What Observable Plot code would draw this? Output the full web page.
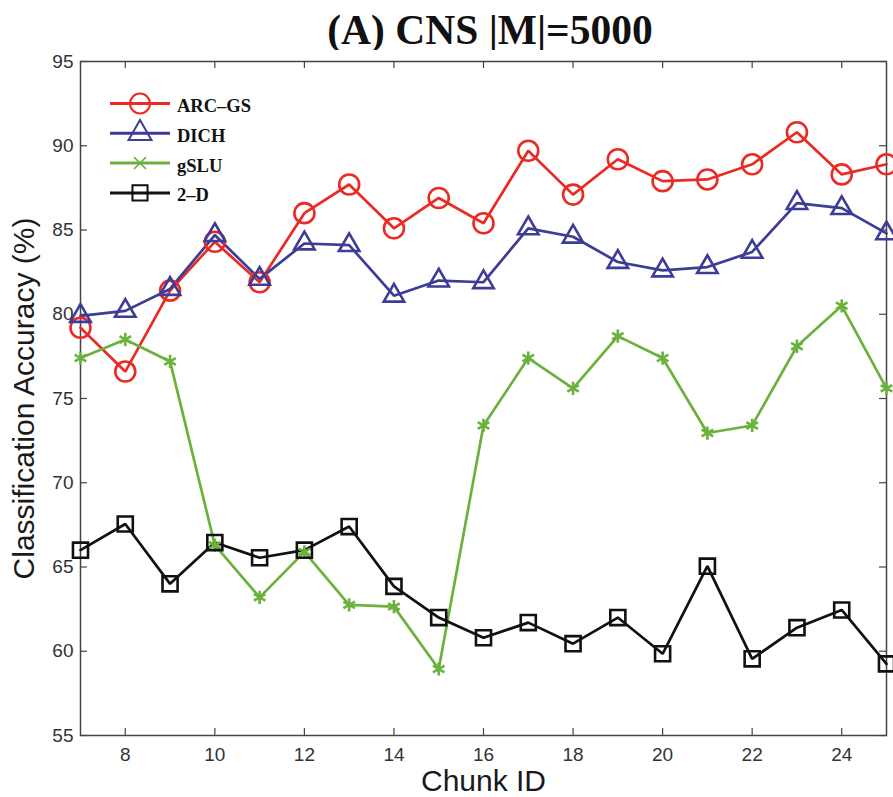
<!DOCTYPE html>
<html>
<head>
<meta charset="utf-8">
<script src="https://cdn.jsdelivr.net/npm/d3@7"></script>
<script src="https://cdn.jsdelivr.net/npm/@observablehq/plot@0.6"></script>
<style>
  body { margin: 0; background: #fff; }
  #wrap { position: relative; width: 893px; height: 797px; overflow: hidden; background: #fff; }
  #title { position: absolute; left: 0px; width: 980px; top: 5px; height: 50px; line-height: 50px;
           text-align: center; font-family: "Liberation Serif", "Times New Roman", serif;
           font-weight: bold; font-size: 41.5px; color: #111; }
  #chart { position: absolute; left: 0; top: 50px; }
</style>
</head>
<body>
<div id="wrap">
  <div id="title">(A) CNS |M|=5000</div>
  <div id="chart"></div>
</div>
<script>
// ---- data ----
const chunks = [7, 8, 9, 10, 11, 12, 13, 14, 15, 16, 17, 18, 19, 20, 21, 22, 23, 24, 25];
const arcgs = [79.2, 76.6, 81.4, 84.3, 81.9, 86.0, 87.7, 85.1, 86.9, 85.4, 89.7, 87.1, 89.2, 87.9, 88.0, 88.9, 90.8, 88.3, 88.9];
const dich  = [79.9, 80.2, 81.5, 84.7, 82.1, 84.2, 84.1, 81.1, 82.0, 81.9, 85.1, 84.6, 83.1, 82.6, 82.8, 83.7, 86.6, 86.3, 84.8];
const gslu  = [77.4, 78.5, 77.2, 66.3, 63.2, 65.9, 62.75, 62.65, 58.95, 73.4, 77.4, 75.6, 78.7, 77.4, 72.95, 73.4, 78.1, 80.5, 75.6];
const twoD  = [66.0, 67.55, 64.0, 66.45, 65.55, 66.0, 67.4, 63.85, 62.0, 60.8, 61.7, 60.45, 62.0, 59.85, 65.05, 59.55, 61.4, 62.45, 59.25];
const seriesNames = ["ARC–GS", "DICH", "gSLU", "2–D"];
const xTicks = [8, 10, 12, 14, 16, 18, 20, 22, 24];
const yTicks = [55, 60, 65, 70, 75, 80, 85, 90, 95];
const xLabel = "Chunk ID";
const yLabel = "Classification Accuracy (%)";

// ---- styles ----
const seriesValues = [arcgs, dich, gslu, twoD];
const colors = ["#ea2a23", "#3d3c96", "#6bb23c", "#111111"];
const dataSymbols = ["circle", "triangle", "asterisk", "square"];
const legendSymbols = [d3.symbolCircle, d3.symbolTriangle, d3.symbolTimes, d3.symbolSquare];
const symR = [10, 7.6, 6.3, 8.5];
const legendR = [10, 8.5, 5.5, 8.5];

const rows = seriesNames.flatMap((s, i) => chunks.map((c, j) => ({series: s, chunk: c, acc: seriesValues[i][j]})));

const W = 893, H = 747;
const mL = 80, mR = 7, mT = 11, mB = 62;
const fw = W - mL - mR, fh = H - mT - mB;
const tl = 7;
const axisColor = "#444";

function legendMark(...args) {
  const dims = args.find(a => a && typeof a === "object" && "marginLeft" in a && "width" in a);
  const x0 = dims.marginLeft, y0 = dims.marginTop;
  const g = d3.create("svg:g");
  seriesNames.forEach((s, i) => {
    const cy = y0 + 42.5 + i * 29.8;
    g.append("line").attr("x1", x0 + 30).attr("x2", x0 + 90).attr("y1", cy).attr("y2", cy)
      .attr("stroke", colors[i]).attr("stroke-width", 3);
    g.append("path").attr("transform", `translate(${x0 + 60},${cy})`)
      .attr("d", d3.symbol(legendSymbols[i], Math.PI * legendR[i] * legendR[i])())
      .attr("fill", "none").attr("stroke", colors[i]).attr("stroke-width", i === 2 ? 1.5 : 2);
    g.append("text").attr("x", x0 + 97).attr("y", cy + 8.5)
      .attr("text-anchor", "start")
      .attr("font-family", "Liberation Serif, Times New Roman, serif").attr("font-weight", "bold")
      .attr("font-size", 18.5).attr("fill", "#111").text(s);
  });
  return g.node();
}

const chart = Plot.plot({
  width: W, height: H,
  marginLeft: mL, marginRight: mR, marginTop: mT, marginBottom: mB,
  style: {fontFamily: "Liberation Sans, Arial, Helvetica, sans-serif", background: "#fff", color: "#222"},
  x: {domain: [7, 25]},
  y: {domain: [55, 95]},
  marks: [
    Plot.frame({stroke: axisColor, strokeWidth: 1.5}),
    // inward ticks on all four sides
    Plot.tickX(xTicks, {x: d => d, insetTop: fh - tl, stroke: axisColor, strokeWidth: 1.2}),
    Plot.tickX(xTicks, {x: d => d, insetBottom: fh - tl, stroke: axisColor, strokeWidth: 1.2}),
    Plot.tickY(yTicks, {y: d => d, insetRight: fw - tl, stroke: axisColor, strokeWidth: 1.2}),
    Plot.tickY(yTicks, {y: d => d, insetLeft: fw - tl, stroke: axisColor, strokeWidth: 1.2}),
    Plot.axisX(xTicks, {tickSize: 0, tickPadding: 12, fontSize: 19, label: null, fill: "#333"}),
    Plot.axisY(yTicks, {tickSize: 0, tickPadding: 7, fontSize: 19, label: null, fill: "#333"}),
    // series lines
    ...seriesNames.map((s, i) => Plot.line(rows.filter(r => r.series === s),
      {x: "chunk", y: "acc", stroke: colors[i], strokeWidth: 2.7, strokeLinejoin: "miter"})),
    // markers
    ...seriesNames.map((s, i) => Plot.dot(rows.filter(r => r.series === s),
      {x: "chunk", y: "acc", symbol: dataSymbols[i], r: symR[i], stroke: colors[i], fill: "none",
       strokeWidth: 2.6})),
    // axis titles
    Plot.text([xLabel], {text: d => d, frameAnchor: "bottom", dy: 55, lineAnchor: "bottom",
      fontSize: 30, fill: "#1a1a1a"}),
    Plot.text([yLabel], {text: d => d, frameAnchor: "left", dx: -47, rotate: -90, lineAnchor: "bottom",
      textAnchor: "middle", fontSize: 30, fill: "#1a1a1a"}),
    legendMark
  ]
});
document.getElementById("chart").appendChild(chart);
</script>
</body>
</html>
